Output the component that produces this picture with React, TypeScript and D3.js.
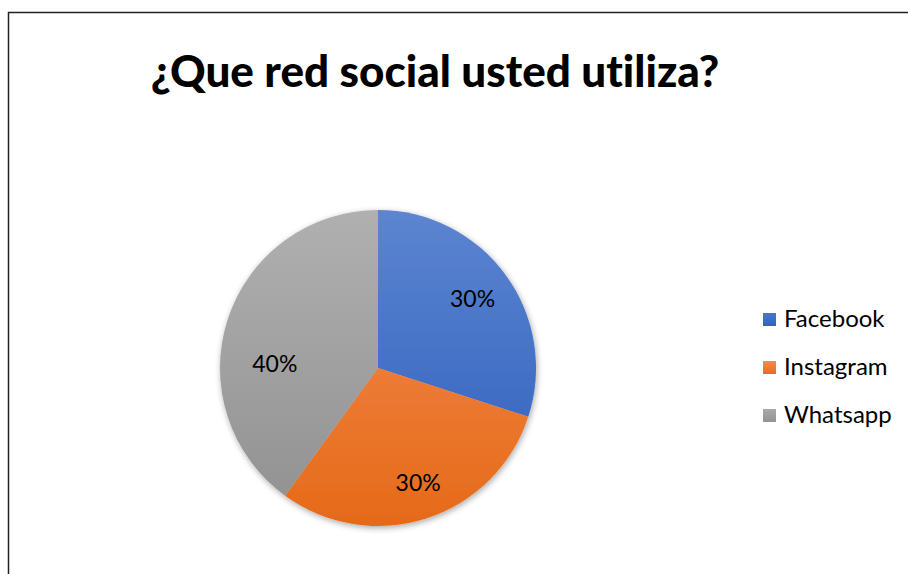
import React from "react";
import * as d3 from "d3";

const categories = ["Facebook", "Instagram", "Whatsapp"];
const values = [30, 30, 40];
const labels = ["30%", "30%", "40%"];
const title = "¿Que red social usted utiliza?";

const gradTop = ["#5c85d0", "#f38d55", "#b0b0b0"];
const gradBottom = ["#2d5dbd", "#e66a18", "#909090"];
const legendTop = ["#4a77cc", "#f38a4e", "#aaaaaa"];
const legendBottom = ["#3262c0", "#e96c1c", "#939393"];
// label nudges (layout only)
const labelNudge: [number, number][] = [[0, 0], [4, 4], [8, 32]];

export default function App() {
  const W = 908, H = 574;
  const cx = 378, cy = 368, R = 158;
  const pie = d3.pie<number>().sort(null).value((d) => d);
  const arcs = pie(values);
  const arc = d3.arc<d3.PieArcDatum<number>>().innerRadius(0).outerRadius(R);
  const labelArc = d3.arc<d3.PieArcDatum<number>>().innerRadius(R * 0.74).outerRadius(R * 0.74);
  const legendY = d3.scalePoint<string>().domain(categories).range([319, 415]);
  const font = "Lato, 'Open Sans', sans-serif";
  return (
    <svg width={W} height={H} style={{ position: "absolute", left: 0, top: 0, background: "#fff" }}>
      <defs>
        {categories.map((c, i) => (
          <linearGradient key={c} id={`g${i}`} x1="0" y1={-R} x2="0" y2={R} gradientUnits="userSpaceOnUse">
            <stop offset="0" stopColor={gradTop[i]} />
            <stop offset="1" stopColor={gradBottom[i]} />
          </linearGradient>
        ))}
        {categories.map((c, i) => (
          <linearGradient key={c} id={`lg${i}`} x1="0" y1="0" x2="0" y2="1">
            <stop offset="0" stopColor={legendTop[i]} />
            <stop offset="1" stopColor={legendBottom[i]} />
          </linearGradient>
        ))}
        <filter id="sh" x="-20%" y="-20%" width="140%" height="140%">
          <feGaussianBlur in="SourceAlpha" stdDeviation="3" />
          <feOffset dx="1" dy="2" result="b" />
          <feComponentTransfer><feFuncA type="linear" slope="0.35" /></feComponentTransfer>
          <feMerge><feMergeNode /><feMergeNode in="SourceGraphic" /></feMerge>
        </filter>
      </defs>
      <rect x={8.5} y={12.5} width={1000} height={1000} fill="none" stroke="#222" strokeWidth={1.5} />
      <text x={435} y={87} textAnchor="middle" fontFamily={font} fontWeight={900} fontSize={44} fill="#000"
        style={{ fontVariantLigatures: "none" }}>
        {title}
      </text>
      <g transform={`translate(${cx},${cy})`} filter="url(#sh)">
        {arcs.map((a, i) => (
          <path key={i} d={arc(a) || ""} fill={`url(#g${i})`} />
        ))}
      </g>
      <g transform={`translate(${cx},${cy})`}>
        {arcs.map((a, i) => {
          const [x, y] = labelArc.centroid(a);
          return (
            <text key={i} x={x + labelNudge[i][0]} y={y + labelNudge[i][1]} dy="0.35em" textAnchor="middle"
              fontFamily={font} fontSize={23} fill="#000">
              {labels[i]}
            </text>
          );
        })}
      </g>
      {categories.map((c, i) => (
        <g key={c} transform={`translate(763,${legendY(c)})`}>
          <rect x={0} y={-6} width={13} height={13} fill={`url(#lg${i})`} />
          <text x={21} y={0} dy="0.35em" fontFamily={font} fontSize={24} fill="#000">{c}</text>
        </g>
      ))}
    </svg>
  );
}
